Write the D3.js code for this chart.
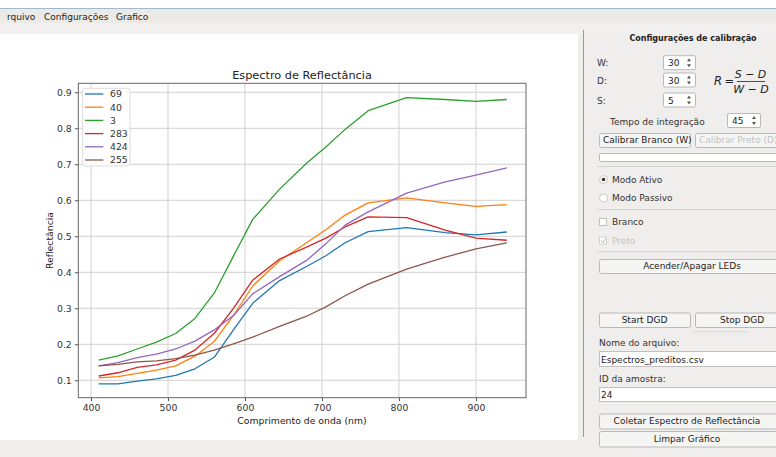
<!DOCTYPE html>
<html><head><meta charset="utf-8">
<script src="https://cdn.jsdelivr.net/npm/d3@7"></script>
<style>
html,body{margin:0;padding:0;background:#efeeec;}
svg{display:block;}
text{font-family:"DejaVu Sans",sans-serif;}
</style></head>
<body><svg id="c" width="776" height="457"></svg>
<script>
const wavelengths = [410,435,460,485,510,535,560,585,610,645,680,705,730,760,810,860,900,940];
const seriesNames = ["69","40","3","283","424","255"];
const s69  = [0.090,0.090,0.098,0.104,0.114,0.132,0.164,0.240,0.314,0.377,0.416,0.446,0.482,0.513,0.524,0.510,0.504,0.512];
const s40  = [0.107,0.110,0.119,0.128,0.140,0.167,0.208,0.280,0.362,0.432,0.482,0.518,0.559,0.593,0.607,0.593,0.583,0.588];
const s3   = [0.156,0.168,0.187,0.206,0.230,0.272,0.342,0.445,0.547,0.631,0.703,0.748,0.797,0.849,0.885,0.880,0.875,0.880];
const s283 = [0.112,0.121,0.136,0.143,0.156,0.184,0.230,0.300,0.378,0.437,0.470,0.495,0.526,0.554,0.552,0.517,0.495,0.489];
const s424 = [0.140,0.149,0.163,0.173,0.187,0.209,0.240,0.280,0.340,0.388,0.433,0.479,0.531,0.568,0.620,0.651,0.670,0.690];
const s255 = [0.140,0.144,0.151,0.154,0.160,0.170,0.184,0.201,0.220,0.250,0.278,0.304,0.335,0.367,0.409,0.442,0.465,0.482];
const xTicks = [400,500,600,700,800,900];
const yTicks = [0.1,0.2,0.3,0.4,0.5,0.6,0.7,0.8,0.9];
const colors = ["#1f77b4","#ff7f0e","#2ca02c","#d62728","#9467bd","#8c564b"];
const allSeries = [s69,s40,s3,s283,s424,s255];

const svg = d3.select("#c");
// window chrome
svg.append("rect").attr("x",0).attr("y",0).attr("width",776).attr("height",457).attr("fill","#efeeec");
svg.append("rect").attr("x",0).attr("y",0).attr("width",776).attr("height",8).attr("fill","#ffffff");
svg.append("line").attr("x1",0).attr("x2",776).attr("y1",8.5).attr("y2",8.5).attr("stroke","#9fb9cf");
svg.append("rect").attr("x",0).attr("y",9).attr("width",776).attr("height",14).attr("fill","#eceae7");
svg.append("rect").attr("x",0).attr("y",23).attr("width",776).attr("height",11).attr("fill","#f1f0ee");
const menu = [["rquivo",7],["Configurações",44],["Grafico",116]];
menu.forEach(m=>svg.append("text").attr("x",m[1]).attr("y",19.5).attr("font-size",9).attr("fill","#222").text(m[0]));
// white canvas
svg.append("rect").attr("x",0).attr("y",34).attr("width",578).attr("height",406).attr("fill","#ffffff");

// chart
const x = d3.scaleLinear().domain([383.5,965]).range([78.3,526]);
const y = d3.scaleLinear().domain([0.0517,0.925]).range([397.7,83.3]);
const g = svg.append("g");
// grid
g.selectAll(".gx").data(xTicks).enter().append("line")
  .attr("x1",d=>x(d)).attr("x2",d=>x(d)).attr("y1",83.3).attr("y2",397.7)
  .attr("stroke","#d0d0d0").attr("stroke-width",1);
g.selectAll(".gy").data(yTicks).enter().append("line")
  .attr("y1",d=>y(d)).attr("y2",d=>y(d)).attr("x1",78.3).attr("x2",526)
  .attr("stroke","#d0d0d0").attr("stroke-width",1);
// axes
const xAxis = d3.axisBottom(x).tickValues(xTicks).tickFormat(d3.format("d")).tickSize(3.5).tickPadding(3);
const yAxis = d3.axisLeft(y).tickValues(yTicks).tickFormat(d3.format(".1f")).tickSize(3.5).tickPadding(3);
const gx = svg.append("g").attr("transform","translate(0,397.7)").call(xAxis);
const gy = svg.append("g").attr("transform","translate(78.3,0)").call(yAxis);
[gx,gy].forEach(a=>{
  a.select(".domain").remove();
  a.selectAll("line").attr("stroke","#444").attr("stroke-width",0.9);
  a.selectAll("text").attr("font-family","DejaVu Sans").attr("font-size",9.3).attr("fill","#333");
});
// lines
const line = d3.line().x((d,i)=>x(wavelengths[i])).y(d=>y(d));
allSeries.forEach((s,i)=>{
  svg.append("path").datum(s).attr("d",line).attr("fill","none")
    .attr("stroke",colors[i]).attr("stroke-width",1.3).attr("stroke-linejoin","round");
});
// frame
svg.append("rect").attr("x",78.3).attr("y",83.3).attr("width",526-78.3).attr("height",397.7-83.3)
  .attr("fill","none").attr("stroke","#666").attr("stroke-width",1);
// legend
const lg = svg.append("g");
lg.append("rect").attr("x",82.7).attr("y",88.3).attr("width",47.3).attr("height",77.7).attr("rx",2.5)
  .attr("fill","#ffffff").attr("fill-opacity",0.85).attr("stroke","#d3d3d3").attr("stroke-width",0.8);
seriesNames.forEach((n,i)=>{
  const yy = 94 + i*13.2;
  lg.append("line").attr("x1",85).attr("x2",103.3).attr("y1",yy).attr("y2",yy).attr("stroke",colors[i]).attr("stroke-width",1.3);
  lg.append("text").attr("x",110).attr("y",yy+3.3).attr("font-size",9.3).attr("fill","#333").text(n);
});
// titles
svg.append("text").attr("x",302).attr("y",79).attr("text-anchor","middle").attr("font-size",11.3).attr("fill","#222").text("Espectro de Reflectância");
svg.append("text").attr("x",302).attr("y",423.5).attr("text-anchor","middle").attr("font-size",9.3).attr("fill","#222").text("Comprimento de onda (nm)");
svg.append("text").attr("transform","translate(52.5,240.5) rotate(-90)").attr("text-anchor","middle").attr("font-size",9.3).attr("fill","#222").text("Reflectância");

// right panel
const p = svg.append("g");
p.append("line").attr("x1",583.5).attr("x2",583.5).attr("y1",30).attr("y2",437).attr("stroke","#9a9a9a");
p.append("text").attr("x",693).attr("y",41).attr("text-anchor","middle").attr("font-size",8).attr("font-weight","bold").attr("fill","#222").text("Configurações de calibração");
function spin(x0,y0,w,val){
  p.append("rect").attr("x",x0+0.5).attr("y",y0+0.5).attr("width",w).attr("height",14).attr("fill","#fff").attr("stroke","#b8b8b8").attr("rx",1.5);
  p.append("text").attr("x",x0+5).attr("y",y0+11).attr("font-size",9).attr("fill","#222").text(val);
  const ax = x0+w-6;
  p.append("path").attr("d",`M${ax-2},${y0+6}L${ax+2},${y0+6}L${ax},${y0+3}Z`).attr("fill","#555");
  p.append("path").attr("d",`M${ax-2},${y0+9}L${ax+2},${y0+9}L${ax},${y0+12}Z`).attr("fill","#555");
}
[["W:",62.7,"30"],["D:",80,"30"],["S:",100,"5"]].forEach(r=>{
  p.append("text").attr("x",597).attr("y",r[1]+3.5).attr("font-size",9).attr("fill","#333").text(r[0]);
  spin(663,r[1]-7.5,32,r[2]);
});
// formula
const ff = "'Liberation Serif',serif";
p.append("text").attr("x",714).attr("y",85).attr("font-family",ff).attr("font-style","italic").attr("font-size",11.5).attr("fill","#222").text("R");
p.append("text").attr("x",724.5).attr("y",85).attr("font-family",ff).attr("font-size",11.5).attr("fill","#222").text("=");
p.append("text").attr("x",750.5).attr("y",78).attr("text-anchor","middle").attr("font-family",ff).attr("font-style","italic").attr("font-size",11).attr("fill","#222").text("S − D");
p.append("line").attr("x1",737).attr("x2",765).attr("y1",81.5).attr("y2",81.5).attr("stroke","#222").attr("stroke-width",0.8);
p.append("text").attr("x",751).attr("y",92.5).attr("text-anchor","middle").attr("font-family",ff).attr("font-style","italic").attr("font-size",11).attr("fill","#222").text("W − D");
p.append("text").attr("x",610).attr("y",124.7).attr("font-size",9).attr("fill","#333").text("Tempo de integração");
spin(727,113,33,"45");
function button(x0,y0,w,h,label,disabled,anchorStart,cx){
  p.append("rect").attr("x",x0+0.5).attr("y",y0+0.5).attr("width",w).attr("height",h).attr("rx",2)
    .attr("fill","#f5f5f4").attr("stroke","#b9b9b9");
  const t = p.append("text").attr("y",y0+h/2+3.3).attr("font-size",9).attr("fill",disabled?"#c2c2c2":"#222").text(label);
  if(anchorStart) t.attr("x",x0+4); else t.attr("x",cx!==undefined?cx:x0+w/2).attr("text-anchor","middle");
}
button(599,133,91,14,"Calibrar Branco (W)",false,true);
button(695,133,90,14,"Calibrar Preto (D)",true,true);
p.append("rect").attr("x",599.5).attr("y",153.5).attr("width",190).attr("height",8).attr("rx",1.5).attr("fill","#fff").attr("stroke","#b9b9b9");
p.append("line").attr("x1",597).attr("x2",776).attr("y1",166.5).attr("y2",166.5).attr("stroke","#d4d4d4");
// radios
p.append("circle").attr("cx",603.5).attr("cy",179.5).attr("r",4).attr("fill","#fff").attr("stroke","#c8c8c8");
p.append("circle").attr("cx",603.5).attr("cy",179.5).attr("r",1.8).attr("fill","#333");
p.append("text").attr("x",612).attr("y",182.5).attr("font-size",9).attr("fill","#333").text("Modo Ativo");
p.append("circle").attr("cx",603.5).attr("cy",198).attr("r",4).attr("fill","#fff").attr("stroke","#c8c8c8");
p.append("text").attr("x",612).attr("y",201).attr("font-size",9).attr("fill","#333").text("Modo Passivo");
p.append("line").attr("x1",597).attr("x2",776).attr("y1",209.5).attr("y2",209.5).attr("stroke","#d4d4d4");
// checkboxes
p.append("rect").attr("x",599.5).attr("y",218.5).attr("width",7).attr("height",7).attr("fill","#fff").attr("stroke","#c0c0c0");
p.append("text").attr("x",612).attr("y",225).attr("font-size",9).attr("fill","#333").text("Branco");
p.append("rect").attr("x",599.5).attr("y",237).attr("width",7).attr("height",7).attr("fill","#fff").attr("stroke","#d0d0d0");
p.append("path").attr("d","M601,240.5L603,242.5L605.5,238.5").attr("fill","none").attr("stroke","#b0b0b0").attr("stroke-width",1);
p.append("text").attr("x",612).attr("y",243.5).attr("font-size",9).attr("fill","#c4c4c4").text("Preto");
p.append("line").attr("x1",597).attr("x2",776).attr("y1",251.5).attr("y2",251.5).attr("stroke","#d4d4d4");
button(599,259,186,14,"Acender/Apagar LEDs",false,false,692);
// DGD
button(599,312.5,91,14.5,"Start DGD",false,false);
button(695,312.5,93,14.5,"Stop DGD",false,false,742);
p.append("line").attr("x1",693).attr("x2",748).attr("y1",331.5).attr("y2",331.5).attr("stroke","#d8d8d8");
p.append("text").attr("x",599).attr("y",345.5).attr("font-size",9).attr("fill","#333").text("Nome do arquivo:");
p.append("rect").attr("x",599.5).attr("y",351.5).attr("width",190).attr("height",15).attr("fill","#fff").attr("stroke","#c0c0c0");
p.append("text").attr("x",601).attr("y",362.5).attr("font-size",9).attr("fill","#222").text("Espectros_preditos.csv");
p.append("text").attr("x",599).attr("y",382).attr("font-size",9).attr("fill","#333").text("ID da amostra:");
p.append("rect").attr("x",599.5).attr("y",387.5).attr("width",190).attr("height",14).attr("fill","#fff").attr("stroke","#c0c0c0");
p.append("text").attr("x",601).attr("y",398).attr("font-size",9).attr("fill","#222").text("24");
button(599,413.5,186,15,"Coletar Espectro de Reflectância",false,false,687);
button(599,431,186,15.5,"Limpar Gráfico",false,false,687);
</script></body></html>
